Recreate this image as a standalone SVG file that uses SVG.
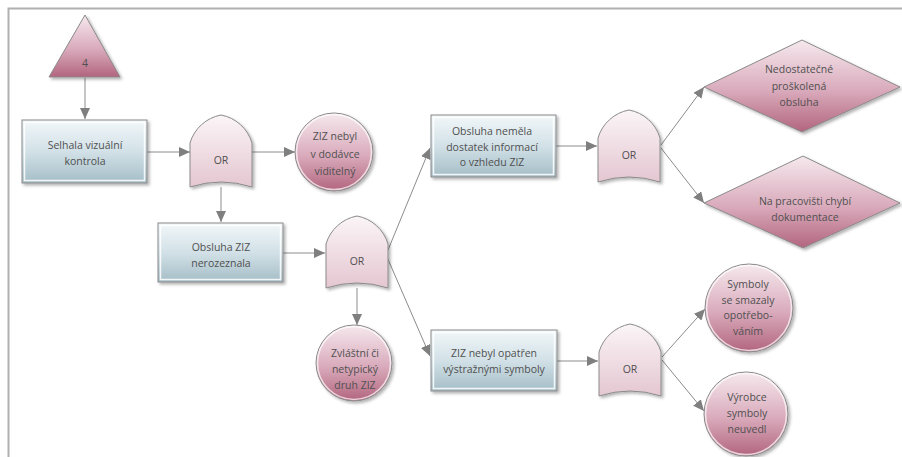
<svg xmlns="http://www.w3.org/2000/svg" width="902" height="457" viewBox="0 0 902 457">
<defs>
<linearGradient id="gRect" x1="0" y1="0" x2="0" y2="1">
<stop offset="0" stop-color="#f2f7f9"/><stop offset="0.5" stop-color="#d2e1e7"/><stop offset="1" stop-color="#a5bdc7"/>
</linearGradient>
<linearGradient id="gPink" x1="0" y1="0" x2="0" y2="1">
<stop offset="0" stop-color="#f6e9ee"/><stop offset="0.55" stop-color="#d9aabb"/><stop offset="1" stop-color="#b2657e"/>
</linearGradient>
<linearGradient id="gGate" x1="0" y1="0" x2="0" y2="1">
<stop offset="0" stop-color="#fbf5f7"/><stop offset="1" stop-color="#e4c6d1"/>
</linearGradient>
<filter id="sh" x="-20%" y="-20%" width="150%" height="150%">
<feDropShadow dx="2" dy="2" stdDeviation="1.5" flood-color="#000" flood-opacity="0.3"/>
</filter>
<marker id="ah" markerUnits="userSpaceOnUse" markerWidth="12" markerHeight="10" refX="11" refY="5" orient="auto">
<path d="M0,0 L11,5 L0,10 Z" fill="#7f7f7f"/>
</marker>
<path id="gate" d="M0,72 L0,28 A40,40 0 0 1 31,0 A40,40 0 0 1 62,28 L62,72 Q31,62 0,72 Z"/>
</defs>
<style>
.t{font-family:"Open Sans","DejaVu Sans",sans-serif;font-size:10.5px;fill:#505050;text-anchor:middle}
.rect{fill:url(#gRect);stroke:#8a8a8a;stroke-width:1;filter:url(#sh)}
.rin{fill:none;stroke:#fff;stroke-width:1.5;opacity:0.85}
.pink{fill:url(#gPink);stroke:#8a8a8a;stroke-width:1;filter:url(#sh)}
.pin{fill:none;stroke:#fff;stroke-width:1.5;opacity:0.7}
.gate{fill:url(#gGate);stroke:#8a8a8a;stroke-width:1;filter:url(#sh)}
.edge{fill:none;stroke:#8c8c8c;stroke-width:1;marker-end:url(#ah)}
.frame{fill:none;stroke:#b0b0b0;stroke-width:2}
</style>
<rect width="902" height="457" fill="#fff"/>
<path class="frame" d="M8.5,457 L8.5,8.5 L902,8.5"/>

<g id="connectors">
<line class="edge" x1="85" y1="78" x2="85" y2="119"/>
<line class="edge" x1="147" y1="152" x2="190" y2="152"/>
<line class="edge" x1="252" y1="152" x2="295" y2="152"/>
<line class="edge" x1="221" y1="187" x2="221" y2="222"/>
<line class="edge" x1="283" y1="253" x2="325" y2="253"/>
<line class="edge" x1="357" y1="288" x2="357" y2="325"/>
<line class="edge" x1="388" y1="250" x2="430" y2="148"/>
<line class="edge" x1="387" y1="257" x2="430" y2="356"/>
<line class="edge" x1="556" y1="146" x2="597" y2="146"/>
<line class="edge" x1="661" y1="145" x2="704" y2="87"/>
<line class="edge" x1="661" y1="148" x2="704" y2="203"/>
<line class="edge" x1="557" y1="361" x2="598" y2="361"/>
<line class="edge" x1="662" y1="357" x2="705" y2="309"/>
<line class="edge" x1="662" y1="360" x2="704" y2="411"/>
</g>

<g id="n_tri">
<path class="pink" d="M85,15 L120,77 L49,77 Z"/>
<text class="t" x="85" y="67">4</text>
</g>

<g id="n_rect1">
<rect class="rect" x="22" y="120" width="125" height="63"/>
<rect class="rin" x="24.5" y="122.5" width="120" height="58"/>
<text class="t" x="85" y="148.5">Selhala vizuální</text>
<text class="t" x="85" y="164.5">kontrola</text>
</g>

<g id="n_gate1">
<use href="#gate" class="gate" x="190" y="115"/>
<text class="t" x="221" y="164">OR</text>
</g>

<g id="n_circ1">
<circle class="pink" cx="334" cy="152" r="39"/>
<circle class="pin" cx="334" cy="152" r="37.5"/>
<text class="t" x="335" y="139.5">ZIZ nebyl</text>
<text class="t" x="335" y="157.5">v dodávce</text>
<text class="t" x="335" y="175">viditelný</text>
</g>

<g id="n_rect2">
<rect class="rect" x="158" y="223" width="125" height="59"/>
<rect class="rin" x="160.5" y="225.5" width="120" height="54"/>
<text class="t" x="221" y="251">Obsluha ZIZ</text>
<text class="t" x="221" y="267">nerozeznala</text>
</g>

<g id="n_gate2">
<use href="#gate" class="gate" x="326" y="216"/>
<text class="t" x="357" y="265">OR</text>
</g>

<g id="n_circ2">
<circle class="pink" cx="354" cy="363" r="38"/>
<circle class="pin" cx="354" cy="363" r="36.5"/>
<text class="t" x="355" y="357">Zvláštní či</text>
<text class="t" x="355" y="373">netypický</text>
<text class="t" x="355" y="389">druh ZIZ</text>
</g>

<g id="n_rect3">
<rect class="rect" x="431" y="115" width="125" height="62"/>
<rect class="rin" x="433.5" y="117.5" width="120" height="57"/>
<text class="t" x="492" y="135">Obsluha neměla</text>
<text class="t" x="492" y="150.5">dostatek informací</text>
<text class="t" x="492" y="166">o vzhledu ZIZ</text>
</g>

<g id="n_gate3">
<use href="#gate" class="gate" x="598" y="110"/>
<text class="t" x="629" y="159">OR</text>
</g>

<g id="n_dia1">
<path class="pink" d="M802,40 L900,87 L802,132 L704,87 Z"/>
<text class="t" x="799" y="73">Nedostatečné</text>
<text class="t" x="799" y="89.5">proškolená</text>
<text class="t" x="799" y="106">obsluha</text>
</g>

<g id="n_dia2">
<path class="pink" d="M803,156 L900,203 L803,248 L704,203 Z"/>
<text class="t" x="805" y="205">Na pracovišti chybí</text>
<text class="t" x="805" y="221">dokumentace</text>
</g>

<g id="n_rect4">
<rect class="rect" x="431" y="330" width="126" height="61"/>
<rect class="rin" x="433.5" y="332.5" width="121" height="56"/>
<text class="t" x="494" y="357">ZIZ nebyl opatřen</text>
<text class="t" x="494" y="373">výstražnými symboly</text>
</g>

<g id="n_gate4">
<use href="#gate" class="gate" x="599" y="324"/>
<text class="t" x="630" y="373">OR</text>
</g>

<g id="n_circ3">
<circle class="pink" cx="749" cy="308" r="44"/>
<circle class="pin" cx="749" cy="308" r="42.5"/>
<text class="t" x="748" y="288">Symboly</text>
<text class="t" x="748" y="303.5">se smazaly</text>
<text class="t" x="748" y="319">opotřebo-</text>
<text class="t" x="748" y="334.5">váním</text>
</g>

<g id="n_circ4">
<circle class="pink" cx="746" cy="414" r="42"/>
<circle class="pin" cx="746" cy="414" r="40.5"/>
<text class="t" x="747" y="401">Výrobce</text>
<text class="t" x="747" y="417">symboly</text>
<text class="t" x="747" y="433">neuvedl</text>
</g>
</svg>
